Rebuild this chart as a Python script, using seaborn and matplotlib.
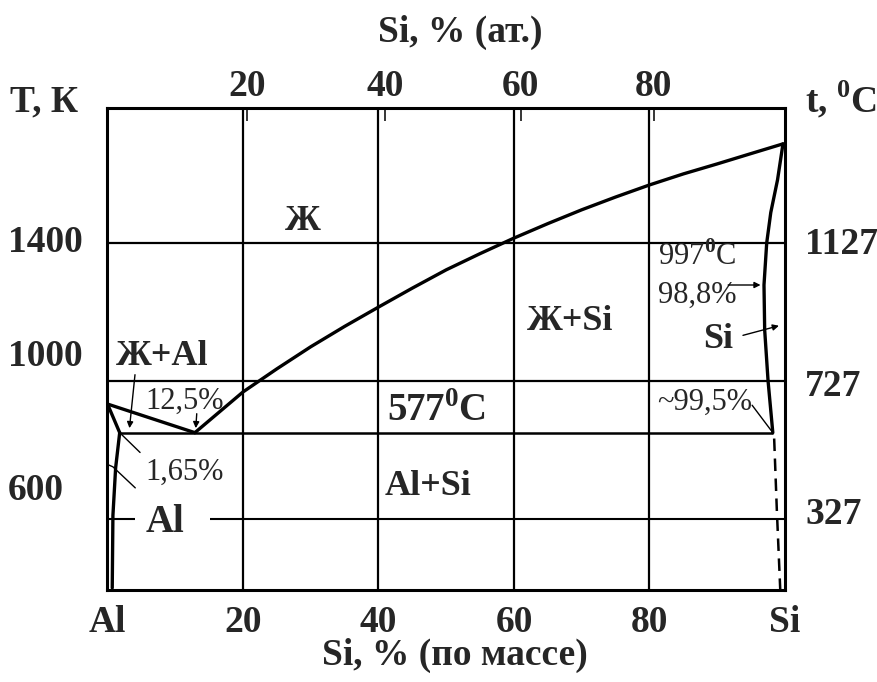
import numpy as np
import pandas as pd
import matplotlib.pyplot as plt
import seaborn as sns

# Si, mass %  /  t, °C
liq_al_x = [0, 12.9]
liq_al_t = [660, 577]
liq_si_x = [12.9, 20, 25, 30, 35, 40, 45, 50, 55, 60, 65, 70, 75, 80, 85, 90, 95, 99.7]
liq_si_t = [577, 695, 762, 826, 885, 941, 996, 1049, 1096, 1141, 1183, 1223, 1260, 1295, 1327, 1356, 1386, 1414]
sol_al_x = [0, 1.8]
sol_al_t = [660, 577]
solv_al_x = [1.8, 1.2, 0.8, 0.7]
solv_al_t = [577, 475, 337, 127]
sol_si_x = [99.7, 98.9, 97.9, 97.3, 96.9, 97.0, 97.5, 98.2]
sol_si_t = [1414, 1310, 1215, 1127, 1005, 875, 727, 577]
solv_si_x = [98.4, 98.8, 99.3]
solv_si_t = [560, 350, 121]

eutectic_t = 577
grid_t = [1127, 727]
low_t = 327
grid_x = [20, 40, 60, 80]

mass_ticks = [0, 20, 40, 60, 80, 100]
mass_labels = ["Al", "20", "40", "60", "80", "Si"]
at_ticks = [20, 40, 60, 80]
t_labels = ["1127", "727", "327"]
k_labels = ["1400", "1000", "600"]

M_AL, M_SI = 26.98, 28.09


def w2a(w):
    w = np.asarray(w, float)
    with np.errstate(divide="ignore", invalid="ignore"):
        return 100 * (w / M_SI) / (w / M_SI + (100 - w) / M_AL)


def a2w(a):
    a = np.asarray(a, float)
    with np.errstate(divide="ignore", invalid="ignore"):
        return 100 * (a * M_SI) / (a * M_SI + (100 - a) * M_AL)


sns.set_style("white")
plt.rcParams["font.family"] = ["Liberation Serif", "DejaVu Serif"]
plt.rcParams["font.weight"] = "bold"
plt.rcParams["mathtext.fontset"] = "custom"
plt.rcParams["mathtext.rm"] = "Liberation Serif"
plt.rcParams["mathtext.bf"] = "Liberation Serif:bold"

W, H = 878, 682
fig = plt.figure(figsize=(W / 100, H / 100), dpi=100)
L, R, T, B = 107.5, 785, 108, 590
ax = fig.add_axes([L / W, 1 - B / H, (R - L) / W, (B - T) / H])

k = dict(ax=ax, color="black", sort=False, estimator=None, legend=False)
curves = [
    (liq_al_x, liq_al_t), (liq_si_x, liq_si_t), (sol_al_x, sol_al_t),
    (solv_al_x, solv_al_t), (sol_si_x, sol_si_t),
]
for xs, ts in curves:
    sns.lineplot(data=pd.DataFrame({"x": xs, "t": ts}), x="x", y="t", lw=2.4, **k)
sns.lineplot(data=pd.DataFrame({"x": solv_si_x, "t": solv_si_t}), x="x", y="t",
             lw=1.8, dashes=False, linestyle=(0, (5, 3)), **k)

for gx in grid_x:
    ax.axvline(gx, color="black", lw=1.6)
for gt in grid_t:
    ax.axhline(gt, color="black", lw=1.6)
ax.hlines(eutectic_t, sol_al_x[-1], sol_si_x[-1], color="black", lw=1.8)
ax.hlines(low_t, 0, 4.1, color="black", lw=1.5)
ax.hlines(low_t, 15.1, 100, color="black", lw=1.5)

ax.set_xlim(0, 100)
ax.set_ylim(121, 1518)
ax.set_xlabel("")
ax.set_ylabel("")
ax.set_yticks([])
ax.set_xticks(mass_ticks, mass_labels)
ax.tick_params(axis="x", length=0, pad=11, labelsize=27)
for s in ax.spines.values():
    s.set_linewidth(2.2)
    s.set_color("black")

sec = ax.secondary_xaxis("top", functions=(w2a, a2w))
sec.set_xticks(at_ticks)
sec.tick_params(direction="in", length=9, width=1.3, pad=3, labelsize=27)
sec.spines["top"].set_visible(False)

# outside labels
fig.text(460 / W, 1 - 32 / H, "Si, % (ат.)", ha="center", va="center", fontsize=27)
fig.text(455 / W, 1 - 655 / H, "Si, % (по массе)", ha="center", va="center", fontsize=27)
fig.text(10 / W, 1 - 102 / H, "T, К", ha="left", va="center", fontsize=27)
fig.text(805 / W, 1 - 100 / H, r"t, $^{\mathbf{0}}$C", ha="left", va="center", fontsize=27)
for lab, y in zip(k_labels, [243, 357, 490]):
    fig.text(8 / W, 1 - y / H, lab, ha="left", va="center", fontsize=27)
for lab, y in zip(t_labels, [244, 386, 515]):
    fig.text(805 / W, 1 - y / H, lab, ha="left", va="center", fontsize=27)

# region labels
ax.text(28.9, 1188, "Ж", ha="center", va="center", fontsize=26)
ax.text(68.3, 898, "Ж+Si", ha="center", va="center", fontsize=26)
ax.text(8.0, 797, "Ж+Al", ha="center", va="center", fontsize=26)
ax.text(47.3, 420, "Al+Si", ha="center", va="center", fontsize=26)
ax.text(8.5, 318, "Al", ha="center", va="center", fontsize=28)
ax.text(90.1, 846, "Si", ha="center", va="center", fontsize=26)
ax.text(48.6, 637, r"577$^{\mathbf{0}}$C", ha="center", va="center", fontsize=28)
ax.text(11.4, 669, "12,5%", ha="center", va="center", fontsize=22, fontweight="normal")
ax.text(11.4, 463, "1,65%", ha="center", va="center", fontsize=22, fontweight="normal")
ax.text(87.0, 1086, r"997$^{\mathrm{0}}$C", ha="center", va="center", fontsize=22, fontweight="normal")
ax.text(87.0, 976, "98,8%", ha="center", va="center", fontsize=22, fontweight="normal")
ax.text(88.2, 666, "~99,5%", ha="center", va="center", fontsize=22, fontweight="normal")

arrow = dict(arrowstyle="-|>", color="black", lw=1.0, mutation_scale=9)
plain = dict(arrowstyle="-", color="black", lw=1.0)
ax.annotate("", xy=(3.2, 582), xytext=(4.1, 753), arrowprops=arrow)
ax.annotate("", xy=(13.0, 582), xytext=(13.2, 640), arrowprops=arrow)
ax.annotate("", xy=(96.8, 1005), xytext=(91.2, 1005), arrowprops=arrow)
ax.annotate("", xy=(99.5, 889), xytext=(93.4, 857), arrowprops=arrow)
ax.annotate("", xy=(1.8, 577), xytext=(5.1, 514), arrowprops=plain)
ax.annotate("", xy=(98.2, 577), xytext=(94.9, 663), arrowprops=plain)
ax.plot([0.1, 0.8, 4.1], [484, 478, 417], color="black", lw=1.0)

fig.savefig("out.png", dpi=100)
